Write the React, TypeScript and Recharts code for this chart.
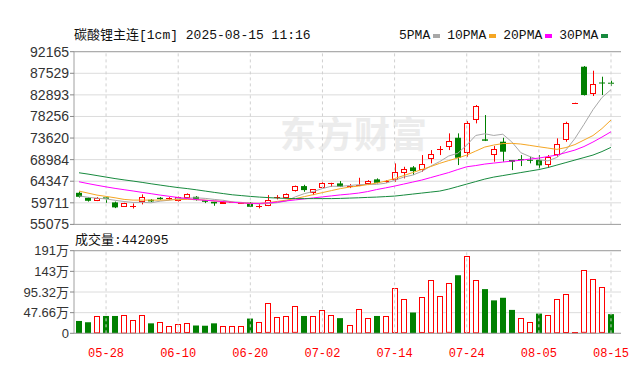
import React from "react";
import { ComposedChart, Bar, Line, XAxis, YAxis, CartesianGrid, ReferenceLine } from "recharts";

const dates = ["05-23","05-26","05-27","05-28","05-29","05-30","06-03","06-04","06-05","06-06","06-09","06-10","06-11","06-12","06-13","06-16","06-17","06-18","06-19","06-20","06-23","06-24","06-25","06-26","06-27","06-30","07-01","07-02","07-03","07-04","07-07","07-08","07-09","07-10","07-11","07-14","07-15","07-16","07-17","07-18","07-21","07-22","07-23","07-24","07-25","07-28","07-29","07-30","07-31","08-01","08-04","08-05","08-06","08-07","08-08","08-11","08-12","08-13","08-14","08-15"];

const openP = [61864,60790,60145,60875,59800,58855,58960,59930,60360,60790,60500,60145,60790,61004,60295,59930,59585,59800,59650,59715,58900,59070,60790,60660,62229,63304,61864,62939,63950,63884,63200,63350,63733,64743,64200,64593,66033,67318,66742,69043,71000,71750,73683,70459,77487,73340,69966,72834,68891,69100,68950,68891,67817,69966,73189,81200,88942,83010,85550,85503];
const highP = [62122,60940,60940,60940,59973,59715,59570,61520,60510,60940,60940,61047,61735,61155,60295,59930,60187,59930,59800,59865,59435,61370,61370,61735,63410,63583,62659,64378,64014,64378,63733,65089,64593,64960,64593,68182,67452,67603,69966,71040,71900,74627,74627,77273,80711,78561,71900,73683,68891,69966,69602,69966,69966,73554,77122,81250,89092,88082,86793,85933];
const lowP = [60833,59973,60080,59715,58575,58855,58490,59370,59866,60360,60360,59973,60617,60187,59650,59070,59585,59715,59600,58790,58510,59006,60445,60617,62122,62078,61370,62874,63155,63089,62874,63304,63520,63884,64013,64228,64958,65668,66377,68182,69966,71040,67817,69600,76777,72975,68536,68536,66742,67603,68182,67107,67323,69600,72824,81190,82755,82645,82860,84794];
const closeP = [61004,60145,60790,60575,58730,59715,59100,61004,60016,60500,60700,60875,61520,60295,59930,59585,59930,59860,59715,58855,59000,60295,60875,61520,63304,62444,62595,64014,64014,63153,63350,63450,64378,64013,64400,66377,66957,66527,67967,70118,71255,72974,69385,76777,80496,73040,71190,70684,68526,68950,68850,67753,69466,72265,76907,81230,82860,85223,85450,85288];

const volumes = [285000,255000,400000,400000,400000,430000,315000,430000,230000,255000,175000,210000,230000,180000,175000,230000,180000,180000,180000,340000,255000,690000,380000,400000,620000,400000,400000,540000,420000,350000,200000,570000,350000,400000,400000,1040000,790000,480000,830000,1230000,870000,1150000,1340000,1780000,1230000,1020000,760000,820000,540000,350000,255000,455000,430000,790000,900000,30000,1450000,1260000,1060000,442095];
const volUp = [0,0,1,0,0,1,1,1,0,1, 1,1,1,0,0,0,1,1,1,0, 1,1,1,1,1,0,1,1,1,0, 1,1,1,0,1,1,1,0,1,1, 1,1,0,1,1,0,0,0,0,1, 1,0,1,1,1,1,1,1,1,0];

const ma5 = [61200,60900,60700,60550,60249,59991,59782,59825,59713,60067,60264,60619,60722,60778,60664,60441,60252,59920,59804,59589,59472,59545,59748,60109,61000,61688,62148,62775,63274,63244,63425,63596,63669,63669,63918,64524,65225,65655,66446,67589,68565,69768,70340,72102,74177,74534,74178,74437,72787,70478,69640,68953,68709,69457,71048,73524,76546,79697,82334,84010];
const ma10 = [62229,61799,61369,61090,60789,60446,60295,60295,60295,60295,60338,60402,60446,60402,60295,60123,59973,59822,59693,59607,59586,59758,60016,60295,60617,61047,61477,61907,62337,62766,63089,63304,63626,63948,64378,64915,65560,66205,66849,67494,68182,68784,69321,69965,70825,71685,72114,72437,72480,72329,72050,71749,71470,71190,71577,72222,73189,74156,75660,77487];
const ma20 = [64228,63841,63476,63132,62810,62530,62251,61950,61670,61369,61112,60854,60617,60402,60252,60123,59973,59822,59693,59607,59586,59693,59865,60123,60338,60553,60768,60983,61198,61413,61584,61799,62122,62552,62917,63304,63733,64163,64593,65130,65667,66205,66849,67451,67709,68031,68246,68461,68676,68848,69106,69321,69643,69965,70503,71040,71792,72759,73834,74973];
const ma30 = [66162,65882,65560,65238,64915,64636,64378,64099,63798,63518,63239,62981,62766,62509,62229,61950,61692,61434,61262,61090,60940,60832,60725,60660,60617,60617,60617,60617,60617,60660,60725,60789,60875,60940,61047,61155,61369,61584,61799,62014,62229,62659,63196,63733,64271,64808,65238,65560,65882,66205,66527,66849,67279,67816,68354,68891,69428,69965,70718,71620];

const priceTicks = [55075,59711,64347,68984,73620,78256,82893,87529,92165];
const volTicks = [0,476600,953200,1429800,1906400];
const volTickLabels = ["0","47.66万","95.32万","143万","191万"];
const dateTicks = ["05-28","06-10","06-20","07-02","07-14","07-24","08-05","08-15"];
const titleText = "碳酸锂主连[1cm] 2025-08-15 11:16";
const volTitle = "成交量:442095";
const maNames = ["5PMA","10PMA","20PMA","30PMA"];
const maKeys = ["ma5","ma10","ma20","ma30"];
const maColors = ["#a8a8a8","#f5a623","#ff00ff","#178a3e"];

const RED = "#ff0000";
const GREEN = "#008000";
const GRID = "#dcdcdc";
const BORDER = "#a0a0a0";
const MONO = "'Liberation Mono', 'Noto Sans CJK SC', monospace";
const SANS = "'Liberation Sans', Arial, 'Noto Sans CJK SC', sans-serif";

const data = dates.map((d, i) => ({
  date: d,
  open: openP[i],
  high: highP[i],
  low: lowP[i],
  close: closeP[i],
  range: [lowP[i], highP[i]],
  volume: volumes[i],
  volUp: volUp[i],
  ma5: ma5[i],
  ma10: ma10[i],
  ma20: ma20[i],
  ma30: ma30[i],
}));

const Candle = (props: any) => {
  const { x, y, width, height, payload } = props;
  if (x == null || y == null || !payload) return null;
  const { open, close, high, low } = payload;
  const top = Math.min(y, y + height);
  const h = Math.abs(height);
  const rng = high - low;
  const py = (v: number) => (rng > 0 ? top + ((high - v) / rng) * h : top);
  const up = close >= open;
  const color = up ? RED : GREEN;
  const cx = Math.floor(x + width / 2) + 0.5;
  const bw = 6;
  const left = Math.round(cx - 0.5 - bw / 2);
  const bTop = py(Math.max(open, close));
  const bBot = py(Math.min(open, close));
  const yH = py(high);
  const yL = py(low);
  if (up) {
    const bodyH = bBot - bTop;
    if (bodyH < 1.5) {
      const yy = Math.round(bTop) + 0.5;
      return (
        <g>
          <line x1={cx} x2={cx} y1={yH} y2={yL} stroke={color} strokeWidth={1} />
          <line x1={left} x2={left + bw} y1={yy} y2={yy} stroke={color} strokeWidth={1} />
        </g>
      );
    }
    const rt = Math.round(bTop) + 0.5;
    const rb = Math.round(bBot) - 0.5;
    return (
      <g>
        <line x1={cx} x2={cx} y1={yH} y2={rt} stroke={color} strokeWidth={1} />
        <line x1={cx} x2={cx} y1={rb} y2={yL} stroke={color} strokeWidth={1} />
        <rect x={left + 0.5} y={rt} width={bw - 1} height={Math.max(rb - rt, 1)} fill="#fff" stroke={color} strokeWidth={1} />
      </g>
    );
  }
  return (
    <g>
      <line x1={cx} x2={cx} y1={yH} y2={yL} stroke={color} strokeWidth={1} />
      <rect x={left} y={bTop} width={bw} height={Math.max(bBot - bTop, 1)} fill={color} />
    </g>
  );
};

const VolBar = (props: any) => {
  const { x, y, width, height, payload } = props;
  if (x == null || y == null || !payload) return null;
  const top = Math.min(y, y + height);
  const h = Math.abs(height);
  const cx = Math.floor(x + width / 2);
  const bw = 6;
  const left = cx - bw / 2;
  if (payload.volUp) {
    return (
      <rect x={left + 0.5} y={Math.round(top) + 0.5} width={bw - 1} height={Math.max(h - 1, 0.5)} fill="#fff" stroke={RED} strokeWidth={1} />
    );
  }
  return <rect x={left} y={top} width={bw} height={h} fill={GREEN} />;
};

export default function App() {
  return (
    <div style={{ position: "absolute", left: 0, top: 0, width: 640, height: 365, background: "#fff", overflow: "hidden" }}>
      <div style={{ position: "absolute", left: 280, top: 111, fontSize: 36, fontWeight: 700, color: "#ececec", fontFamily: "'Noto Sans CJK SC', sans-serif", lineHeight: "42px", letterSpacing: 1 }}>
        东方财富
      </div>
      <div style={{ position: "absolute", left: 74, top: 28, fontSize: 13, lineHeight: "16px", color: "#111", fontFamily: MONO, whiteSpace: "nowrap" }}>
        {titleText}
      </div>
      <div style={{ position: "absolute", left: 399, top: 28, display: "flex", alignItems: "center", fontSize: 13, lineHeight: "16px", color: "#111", fontFamily: MONO, whiteSpace: "nowrap" }}>
        {maNames.map((n, i) => (
          <div key={n} style={{ display: "flex", alignItems: "center", marginRight: 7 }}>
            <span>{n}</span>
            <span style={{ display: "inline-block", width: 7, height: 4, marginLeft: 3, background: maColors[i] }} />
          </div>
        ))}
      </div>
      <div style={{ position: "absolute", left: 0, top: 0 }}>
        <ComposedChart width={640} height={234} data={data} margin={{ top: 51.7, right: 19, bottom: 9.6, left: 0 }}>
          <CartesianGrid vertical={false} stroke={GRID} />
          <XAxis dataKey="date" hide height={0} padding={{ left: 0.5, right: 5.5 }} />
          <YAxis
            domain={[priceTicks[0], priceTicks[priceTicks.length - 1]]}
            ticks={priceTicks}
            interval={0}
            width={74}
            tickSize={4}
            tickMargin={1}
            tickLine={{ stroke: "#888" }}
            axisLine={{ stroke: BORDER }}
            tick={{ fill: "#333", fontSize: 14, fontFamily: SANS }}
          />
          <YAxis yAxisId="r" orientation="right" width={0} tick={false} tickLine={false} axisLine={{ stroke: BORDER }} domain={[0, 1]} />
          {dateTicks.map((d) => (
            <ReferenceLine key={d} x={d} stroke="#d0d0d0" strokeDasharray="3 3" />
          ))}
          <ReferenceLine y={priceTicks[priceTicks.length - 1]} stroke={BORDER} />
          <ReferenceLine y={priceTicks[0]} stroke={BORDER} />
          <Bar dataKey="range" barSize={6} shape={Candle} isAnimationActive={false} />
          {maKeys.map((k, i) => (
            <Line key={k} dataKey={k} type="linear" stroke={maColors[i]} strokeWidth={1} dot={false} activeDot={false} isAnimationActive={false} />
          ))}
        </ComposedChart>
      </div>
      <div style={{ position: "absolute", left: 75, top: 233, fontSize: 13, lineHeight: "16px", color: "#111", fontFamily: MONO, whiteSpace: "nowrap" }}>
        {volTitle}
      </div>
      <div style={{ position: "absolute", left: 0, top: 236 }}>
        <ComposedChart width={640} height={129} data={data} margin={{ top: 14.7, right: 19, bottom: 1.7, left: 0 }}>
          <CartesianGrid vertical={false} stroke={GRID} />
          <XAxis
            dataKey="date"
            ticks={dateTicks}
            interval={0}
            height={30}
            padding={{ left: 0.5, right: 5.5 }}
            tickLine={false}
            axisLine={false}
            tickMargin={9}
            tick={{ fill: RED, fontSize: 12, fontFamily: MONO }}
          />
          <YAxis
            domain={[volTicks[0], volTicks[volTicks.length - 1]]}
            ticks={volTicks}
            interval={0}
            width={74}
            tickSize={4}
            tickMargin={1}
            tickLine={{ stroke: "#888" }}
            axisLine={{ stroke: BORDER }}
            tickFormatter={(v: number) => volTickLabels[volTicks.indexOf(v)] ?? ""}
            tick={{ fill: "#333", fontSize: 13, fontFamily: SANS }}
          />
          <YAxis yAxisId="r" orientation="right" width={0} tick={false} tickLine={false} axisLine={{ stroke: BORDER }} domain={[0, 1]} />
          {dateTicks.map((d) => (
            <ReferenceLine key={d} x={d} stroke="#d0d0d0" strokeDasharray="3 3" />
          ))}
          <ReferenceLine y={volTicks[volTicks.length - 1]} stroke={BORDER} />
          <ReferenceLine y={0} stroke={BORDER} />
          <Bar dataKey="volume" barSize={6} shape={VolBar} isAnimationActive={false} />
        </ComposedChart>
      </div>
    </div>
  );
}
